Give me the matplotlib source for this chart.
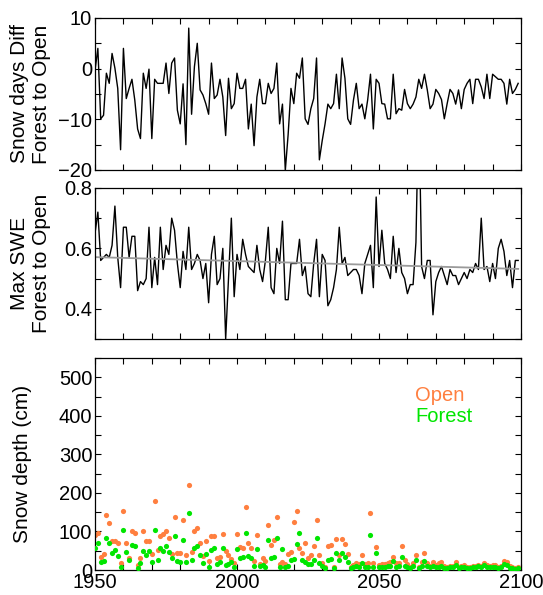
import matplotlib
matplotlib.use("Agg")
import matplotlib.pyplot as plt
import numpy as np
from matplotlib.ticker import MultipleLocator

plt.rcParams["font.family"] = ["Liberation Sans", "DejaVu Sans"]
plt.rcParams["font.size"] = 14

years = np.arange(1950, 2100)

# Snow days difference, forest minus open (days)
snow_days_diff = [
    -0.3, 4.0, -9.9, -9.2, -0.9, -2.9, 3.0, 0.1, -3.9, -16.0,
    4.0, -5.9, -3.9, -2.1, -6.2, -11.9, -13.8, -0.9, -3.9, -0.1,
    -13.8, -2.1, -2.9, -2.9, -2.9, 1.1, -4.9, 1.1, 2.1, -8.2,
    -10.9, -3.0, -15.0, 8.0, -9.0, 0.4, 5.0, -4.2, -5.2, -6.9,
    -9.0, 1.1, -5.9, -5.2, -2.1, -5.6, -13.2, -1.9, -7.9, -6.9,
    -0.9, -3.9, -3.9, -2.1, -11.9, -7.0, -15.2, -5.6, -2.1, -6.9,
    -6.9, -2.9, -4.9, -3.9, 1.1, -10.9, -7.0, -20.1, -13.0, -3.9,
    -6.9, -0.9, -1.9, 2.1, -9.9, -11.0, -7.9, -5.9, 2.1, -18.0,
    -14.2, -10.9, -7.0, -7.9, -6.9, -1.1, -7.9, 2.1, -1.9, -9.9,
    -11.0, -6.2, -2.9, -7.9, -7.0, -9.9, -6.2, -1.1, -11.9, -2.1,
    -2.9, -6.9, -7.0, -9.9, -9.9, -1.1, -8.9, -7.9, -8.2, -4.1,
    -6.9, -7.9, -7.0, -5.6, -2.1, -3.9, -1.1, -4.2, -7.9, -7.0,
    -4.1, -4.9, -6.1, -9.9, -6.9, -4.1, -4.9, -7.0, -4.2, -7.9,
    -4.1, -2.9, -2.1, -6.9, -2.1, -2.1, -3.6, -5.9, -1.1, -5.9,
    -1.1, -1.6, -2.1, -2.1, -2.9, -7.0, -2.1, -4.9, -4.1, -2.9,
]

# Max SWE ratio, forest to open
max_swe_ratio = [
    0.65, 0.72, 0.56, 0.57, 0.58, 0.57, 0.61, 0.74, 0.57, 0.47,
    0.67, 0.67, 0.57, 0.64, 0.64, 0.46, 0.49, 0.48, 0.50, 0.67,
    0.47, 0.57, 0.48, 0.67, 0.53, 0.61, 0.58, 0.70, 0.66, 0.55,
    0.47, 0.59, 0.53, 0.67, 0.53, 0.55, 0.58, 0.56, 0.50, 0.55,
    0.42, 0.58, 0.64, 0.48, 0.50, 0.60, 0.30, 0.50, 0.70, 0.44,
    0.58, 0.53, 0.63, 0.58, 0.54, 0.53, 0.52, 0.61, 0.53, 0.49,
    0.56, 0.67, 0.47, 0.45, 0.60, 0.55, 0.69, 0.43, 0.43, 0.55,
    0.55, 0.55, 0.63, 0.51, 0.54, 0.45, 0.44, 0.55, 0.63, 0.44,
    0.58, 0.56, 0.41, 0.43, 0.47, 0.53, 0.67, 0.55, 0.57, 0.51,
    0.52, 0.53, 0.53, 0.51, 0.45, 0.55, 0.58, 0.61, 0.47, 0.77,
    0.54, 0.66, 0.55, 0.53, 0.50, 0.64, 0.52, 0.60, 0.52, 0.50,
    0.45, 0.48, 0.48, 0.62, 1.10, 0.54, 0.50, 0.56, 0.56, 0.38,
    0.49, 0.52, 0.54, 0.51, 0.48, 0.53, 0.51, 0.51, 0.48, 0.50,
    0.52, 0.50, 0.53, 0.52, 0.55, 0.53, 0.70, 0.53, 0.54, 0.49,
    0.55, 0.50, 0.60, 0.63, 0.59, 0.51, 0.56, 0.47, 0.56, 0.56,
]
trend_years = [1950, 2099]
trend_swe = [0.571, 0.532]

# Max snow depth (cm)
depth_open = [
    91, 97, 35, 41, 143, 123, 76, 74, 71, 19,
    154, 69, 30, 102, 97, 12, 32, 102, 76, 76,
    42, 179, 52, 89, 94, 102, 82, 41, 137, 45,
    45, 130, 39, 220, 48, 102, 109, 69, 37, 74,
    23, 87, 89, 30, 33, 94, 49, 39, 29, 19,
    94, 59, 58, 163, 69, 58, 23, 91, 16, 30,
    23, 118, 65, 78, 137, 15, 22, 16, 42, 48,
    125, 152, 56, 45, 69, 30, 39, 62, 130, 39,
    19, 9, 62, 65, 9, 80, 39, 81, 67, 42,
    7, 13, 17, 15, 39, 16, 17, 149, 19, 59,
    13, 16, 15, 19, 22, 33, 17, 17, 62, 26,
    16, 9, 17, 39, 7, 22, 43, 17, 10, 22,
    13, 17, 22, 10, 7, 10, 10, 22, 9, 10,
    13, 7, 9, 10, 10, 13, 10, 17, 13, 10,
    13, 13, 9, 10, 24, 22, 10, 7, 4, 7,
]
depth_forest = [
    58, 69, 21, 24, 82, 69, 45, 52, 37, 9,
    104, 48, 26, 65, 61, 4, 17, 50, 39, 50,
    22, 104, 26, 56, 50, 62, 48, 30, 89, 24,
    22, 78, 22, 148, 26, 56, 62, 39, 17, 41,
    9, 52, 56, 16, 22, 56, 13, 16, 22, 9,
    54, 30, 35, 95, 37, 30, 10, 54, 10, 12,
    9, 78, 30, 35, 82, 7, 54, 9, 10, 26,
    28, 68, 95, 26, 22, 16, 16, 26, 82, 17,
    10, 4, 26, 28, 4, 43, 26, 45, 35, 22,
    4, 7, 10, 9, 17, 7, 9, 91, 9, 45,
    7, 9, 9, 10, 10, 24, 9, 10, 33, 10,
    7, 4, 10, 26, 4, 10, 24, 10, 7, 10,
    7, 7, 10, 4, 6, 8, 7, 12, 5, 7,
    9, 4, 6, 7, 8, 10, 7, 12, 9, 7,
    9, 8, 5, 7, 16, 14, 6, 4, 3, 5,
]

open_color = "#FF7F3F"
forest_color = "#00E600"


def style_axis(ax):
    ax.set_xlim(1950, 2100)
    ax.xaxis.set_major_locator(MultipleLocator(50))
    ax.xaxis.set_minor_locator(MultipleLocator(10))
    ax.tick_params(which="both", direction="in", top=True, right=True,
                   length=4.5, width=0.8, labelsize=14.5, pad=2)
    for spine in ax.spines.values():
        spine.set_linewidth(0.9)


fig = plt.figure(figsize=(5.43, 5.95), dpi=100)
left, width = 0.175, 0.7845

ax1 = fig.add_axes([left, 0.7143, width, 0.2555])
ax1.plot(years, snow_days_diff, color="black", linewidth=1.0)
ax1.set_ylim(-20, 10)
ax1.yaxis.set_major_locator(MultipleLocator(10))
ax1.yaxis.set_minor_locator(MultipleLocator(5))
style_axis(ax1)
ax1.tick_params(labelbottom=False)
ax1.set_ylabel("Snow days Diff\nForest to Open", fontsize=15, va="center")
ax1.yaxis.set_label_coords(-0.152, 0.5)

ax2 = fig.add_axes([left, 0.4303, width, 0.2538])
ax2.plot(years, max_swe_ratio, color="black", linewidth=1.0)
ax2.plot(trend_years, trend_swe, color="#9a9a9a", linewidth=1.3)
ax2.set_ylim(0.3, 0.8)
ax2.yaxis.set_major_locator(MultipleLocator(0.2))
ax2.yaxis.set_minor_locator(MultipleLocator(0.1))
style_axis(ax2)
ax2.tick_params(labelbottom=False)
ax2.set_ylabel("Max SWE\nForest to Open", fontsize=15, va="center")
ax2.yaxis.set_label_coords(-0.152, 0.5)

ax3 = fig.add_axes([left, 0.042, width, 0.3563])
ax3.scatter(years, depth_open, s=14, color=open_color, linewidths=0, zorder=2)
ax3.scatter(years, depth_forest, s=14, color=forest_color, linewidths=0, zorder=3)
ax3.set_ylim(0, 550)
ax3.yaxis.set_major_locator(MultipleLocator(100))
ax3.yaxis.set_minor_locator(MultipleLocator(50))
style_axis(ax3)
ax3.set_ylabel("Snow depth (cm)", fontsize=15, va="center")
ax3.yaxis.set_label_coords(-0.171, 0.5)
ax3.text(0.751, 0.825, "Open", color=open_color, fontsize=14.5,
         ha="left", va="center", transform=ax3.transAxes)
ax3.text(0.751, 0.722, "Forest", color=forest_color, fontsize=14.5,
         ha="left", va="center", transform=ax3.transAxes)

fig.savefig("out.png", dpi=100)
